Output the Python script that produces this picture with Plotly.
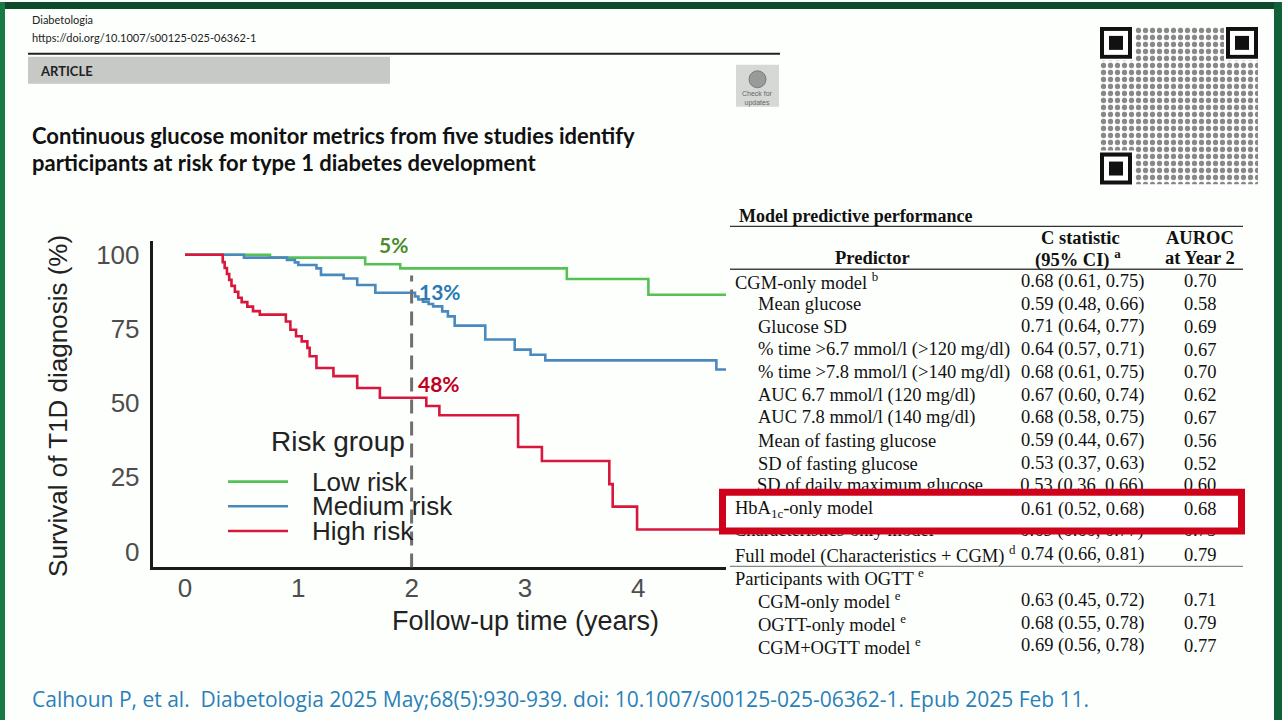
import plotly.graph_objects as go

W, H = 1282, 720

# ---------------- data ----------------
series_names = ["Low risk", "Medium risk", "High risk"]
series_colors = ["#55c155", "#4a89bd", "#d8173d"]

low_t = [0, 0.75, 1.59, 1.90, 3.37, 4.09, 4.90]
low_s = [100, 99.0, 96.8, 95.4, 91.8, 86.5, 86.5]

med_t = [0, 0.52, 0.90, 0.97, 1.00, 1.16, 1.20, 1.40, 1.52, 1.68,
         2.03, 2.06, 2.10, 2.15, 2.19, 2.27, 2.32, 2.38, 2.65, 2.91,
         3.05, 3.18, 4.69, 4.90]
med_s = [100, 99.0, 98.2, 97.4, 96.5, 95.4, 93.2, 92.0, 89.8, 87.2,
         85.9, 84.9, 84.2, 83.4, 82.6, 80.9, 79.2, 76.1, 71.4, 68.0,
         66.3, 64.4, 61.3, 61.3]

high_t = [0, 0.333, 0.35, 0.37, 0.39, 0.41, 0.44, 0.47, 0.50, 0.55, 0.60, 0.66,
          0.89, 0.93, 0.98, 1.03, 1.08, 1.10, 1.16, 1.31, 1.52, 1.72,
          2.13, 2.245, 2.94, 3.15, 3.745, 3.775, 3.99, 4.90]
high_s = [100, 97.5, 95.5, 93.5, 91.5, 89.5, 87.5, 85.5, 84.0, 82.5, 81.0, 79.8,
          77.5, 74.7, 72.5, 70.8, 68.6, 65.8, 61.8, 59.1, 55.1, 51.8,
          49.0, 45.9, 35.2, 30.5, 22.7, 15.1, 7.4, 7.4]

x_ticks = [0, 1, 2, 3, 4]
y_ticks = [0, 25, 50, 75, 100]
marker_year = 2
cum_labels = ["5%", "13%", "48%"]
cum_label_colors = ["#4e8b2e", "#2a79b4", "#c0001f"]

# table
table_predictor = [
    "CGM-only model <sup>b</sup>", "Mean glucose", "Glucose SD",
    "% time >6.7 mmol/l (>120 mg/dl)", "% time >7.8 mmol/l (>140 mg/dl)",
    "AUC 6.7 mmol/l (120 mg/dl)", "AUC 7.8 mmol/l (140 mg/dl)",
    "Mean of fasting glucose", "SD of fasting glucose", "SD of daily maximum glucose",
    "HbA<sub>1c</sub>-only model", "Characteristics-only model <sup>c</sup>",
    "Full model (Characteristics + CGM) <sup>d</sup>", "Participants with OGTT <sup>e</sup>",
    "CGM-only model <sup>e</sup>", "OGTT-only model <sup>e</sup>", "CGM+OGTT model <sup>e</sup>",
]
table_level = [0, 1, 1, 1, 1, 1, 1, 1, 1, 1, 0, 0, 0, 0, 1, 1, 1]
table_cstat = [
    "0.68 (0.61, 0.75)", "0.59 (0.48, 0.66)", "0.71 (0.64, 0.77)", "0.64 (0.57, 0.71)",
    "0.68 (0.61, 0.75)", "0.67 (0.60, 0.74)", "0.68 (0.58, 0.75)", "0.59 (0.44, 0.67)",
    "0.53 (0.37, 0.63)", "0.53 (0.36, 0.66)", "0.61 (0.52, 0.68)", "0.69 (0.60, 0.77)",
    "0.74 (0.66, 0.81)", "", "0.63 (0.45, 0.72)", "0.68 (0.55, 0.78)", "0.69 (0.56, 0.78)",
]
table_auroc = ["0.70", "0.58", "0.69", "0.67", "0.70", "0.62", "0.67", "0.56",
               "0.52", "0.60", "0.68", "0.75", "0.79", "", "0.71", "0.79", "0.77"]
hidden_rows = [9, 11]      # rows partly covered by the red highlight box

# ---------------- helpers ----------------
def px(x):
    return x / W

def py(y):
    return 1 - y / H

annotations = []
shapes = []

def ann(x, y, text, size, color="#111", family="Liberation Sans", xanchor="left",
        yanchor="middle", textangle=0):
    annotations.append(dict(x=px(x), y=py(y), xref="paper", yref="paper", text=text,
                            showarrow=False, xanchor=xanchor, yanchor=yanchor,
                            textangle=textangle,
                            font=dict(size=size, color=color, family=family)))

def rect(x0, y0, x1, y1, fill=None, line=None, lw=0, layer="above"):
    shapes.append(dict(type="rect", xref="paper", yref="paper",
                       x0=px(x0), x1=px(x1), y0=py(y1), y1=py(y0),
                       fillcolor=fill if fill else "rgba(0,0,0,0)",
                       line=dict(color=line if line else "rgba(0,0,0,0)", width=lw),
                       layer=layer))

def hline(x0, x1, y, color, lw):
    shapes.append(dict(type="line", xref="paper", yref="paper",
                       x0=px(x0), x1=px(x1), y0=py(y), y1=py(y),
                       line=dict(color=color, width=lw), layer="above"))

fig = go.Figure()

# ---------------- KM curves ----------------
for t, s, name, col in zip([low_t, med_t, high_t], [low_s, med_s, high_s],
                           series_names, series_colors):
    fig.add_trace(go.Scatter(x=t, y=s, mode="lines", name=name, line_shape="hv",
                             line=dict(color=col, width=2.6), showlegend=False,
                             xaxis="x", yaxis="y"))

# vertical dashed marker at year 2
shapes.append(dict(type="line", xref="x", yref="y", x0=marker_year, x1=marker_year,
                   y0=-5.4, y1=93, line=dict(color="#6f6f6f", width=3, dash="14px,8px"),
                   layer="above"))

# cumulative incidence labels at year 2
s_at2 = []
for t, s in zip([low_t, med_t, high_t], [low_s, med_s, high_s]):
    v = s[0]
    for ti, si in zip(t, s):
        if ti <= marker_year:
            v = si
    s_at2.append(v)
label_offsets = [(-0.305, 8.0), (0.048, 0.3), (0.04, 4.9)]
for v, txt, col, (dx, dy) in zip(s_at2, cum_labels, cum_label_colors, label_offsets):
    annotations.append(dict(x=marker_year + dx, y=v + dy, xref="x", yref="y", text="<b>%s</b>" % txt,
                            showarrow=False, xanchor="left", yanchor="middle",
                            font=dict(size=21, color=col, family="Lato")))

# axis titles
ann(525, 621, "Follow-up time (years)", 27, "#222", xanchor="center")
ann(58, 405, "Survival of T1D diagnosis (%)", 26, "#222", xanchor="center", textangle=-90)

# custom legend
ann(269, 441, "Risk group", 28, "#222")
for i, (name, col) in enumerate(zip(series_names, series_colors)):
    yy = 481 + i * 24.7
    shapes.append(dict(type="line", xref="paper", yref="paper", x0=px(228), x1=px(288),
                       y0=py(yy), y1=py(yy), line=dict(color=col, width=2.6), layer="above"))
    ann(310, yy, name, 26, "#222")

# ---------------- page decoration ----------------
rect(0, 0, W, 7, fill="#0c4a2b", layer="below")
rect(0, 0, 5, H, fill="#177a43", layer="below")
rect(1274, 0, W, H, fill="#11603a", layer="below")

ann(30, 18, "Diabetologia", 11, "#222", family="Lato")
ann(30, 36, "https://doi.org/10.1007/s00125-025-06362-1", 11, "#222", family="Lato")
hline(28, 780, 52, "#222", 2)
rect(28, 55, 390, 82, fill="#c6c9c6", layer="below")
ann(38, 69, "<b>ARTICLE</b>", 13, "#222", family="Lato")
# check for updates badge
rect(736, 63, 779, 105, fill="#d6d8d6", layer="below")
shapes.append(dict(type="circle", xref="paper", yref="paper", x0=px(749), x1=px(766),
                   y0=py(86), y1=py(69), fillcolor="#9a9a9a", line=dict(color="#7a7a7a", width=1),
                   layer="above"))
ann(757.5, 97, "Check for<br>updates", 7, "#666", xanchor="center")

ann(30, 134, "<b>Continuous glucose monitor metrics from five studies identify</b>", 22, "#111", family="Lato")
ann(30, 161, "<b>participants at risk for type 1 diabetes development</b>", 22, "#111", family="Lato")

ann(30, 699, "Calhoun P, et al.  Diabetologia 2025 May;68(5):930-939. doi: 10.1007/s00125-025-06362-1. Epub 2025 Feb 11.",
    21, "#2b7fb8", family="Open Sans")

# QR code (decorative)
fig.add_trace(go.Bar(x=[0], y=[1], width=[1], xaxis="x3", yaxis="y3", showlegend=False,
                     marker=dict(color="white", line=dict(width=0),
                                 pattern=dict(shape=".", fgcolor="#111", bgcolor="white",
                                              size=7, solidity=0.45)),
                     hoverinfo="skip"))
for (qx, qy) in [(1100, 25), (1226, 25), (1100, 151)]:
    rect(qx - 2, qy - 2, qx + 34, qy + 34, fill="white")
    rect(qx, qy, qx + 32, qy + 32, fill="#111")
    rect(qx + 4, qy + 4, qx + 28, qy + 28, fill="white")
    rect(qx + 9, qy + 9, qx + 23, qy + 23, fill="#111")

# ---------------- table ----------------
TF = "Liberation Serif"
TS = 18.5
ann(737, 215, "<b>Model predictive performance</b>", 18, "#111", family=TF)
hline(730, 1243, 225, "#333", 1.3)
ann(872, 257, "<b>Predictor</b>", 18.5, "#111", family=TF, xanchor="center")
ann(1080, 237, "<b>C statistic</b>", 18.5, "#111", family=TF, xanchor="center")
ann(1078, 257, "<b>(95% CI) <sup>a</sup></b>", 18.5, "#111", family=TF, xanchor="center")
ann(1200, 237, "<b>AUROC</b>", 18.5, "#111", family=TF, xanchor="center")
ann(1200, 257, "<b>at Year 2</b>", 18.5, "#111", family=TF, xanchor="center")
hline(730, 1243, 268, "#444", 1.6)
hline(730, 1243, 566, "#888", 1.2)

row_y = [280 + i * 22.85 for i in range(len(table_predictor))]

hid_x, hid_y, hid_t, hid_pos = [], [], [], []
for i, (p, lv, c, a) in enumerate(zip(table_predictor, table_level, table_cstat, table_auroc)):
    xl = 733 if lv == 0 else 756
    y = row_y[i]
    if i in hidden_rows:
        hid_x += [xl + 1, 1082, 1200]
        hid_y += [y, y, y]
        hid_t += [p, c, a]
        hid_pos += ["middle right", "middle center", "middle center"]
        continue
    ann(xl, y, p, TS, "#111", family=TF)
    if c:
        ann(1082, y, c, TS, "#111", family=TF, xanchor="center")
    if a:
        ann(1200, y, a, TS, "#111", family=TF, xanchor="center")

fig.add_trace(go.Scatter(x=hid_x, y=hid_y, text=hid_t, mode="text", textposition=hid_pos,
                         textfont=dict(size=TS, color="#111", family=TF),
                         xaxis="x2", yaxis="y2", showlegend=False, hoverinfo="skip"))

# red highlight box
rect(722.5, 491.5, 1241.5, 530.5, fill="white", line="#d0021b", lw=7)

fig.update_layout(
    width=W, height=H, margin=dict(l=0, r=0, t=0, b=0),
    paper_bgcolor="#fdfffd", plot_bgcolor="rgba(0,0,0,0)",
    showlegend=False,
    xaxis=dict(domain=[px(152.5), px(726)], range=[-0.287, 4.775], anchor="y",
               showline=True, linecolor="#1a1a1a", linewidth=2.5, ticks="",
               tickvals=x_ticks, showgrid=False, zeroline=False, ticklabelstandoff=-4,
               tickfont=dict(size=26, color="#4d4d4d", family="Liberation Sans")),
    yaxis=dict(domain=[py(567), py(240)], range=[-5.37, 104.5], anchor="x",
               showline=True, linecolor="#1a1a1a", linewidth=2.5, ticks="",
               tickvals=y_ticks, showgrid=False, zeroline=False, ticklabelstandoff=5,
               tickfont=dict(size=26, color="#4d4d4d", family="Liberation Sans")),
    xaxis2=dict(domain=[0, 1], range=[0, W], anchor="y2", visible=False),
    yaxis2=dict(domain=[0, 1], range=[H, 0], anchor="x2", visible=False),
    xaxis3=dict(domain=[px(1100), px(1258)], range=[-0.5, 0.5], anchor="y3", visible=False),
    yaxis3=dict(domain=[py(183), py(25)], range=[0, 1], anchor="x3", visible=False),
    annotations=annotations, shapes=shapes,
)

fig.write_html("out.html", config={"displayModeBar": False},
               post_script="document.body.style.margin='0';document.body.style.overflow='hidden';")
